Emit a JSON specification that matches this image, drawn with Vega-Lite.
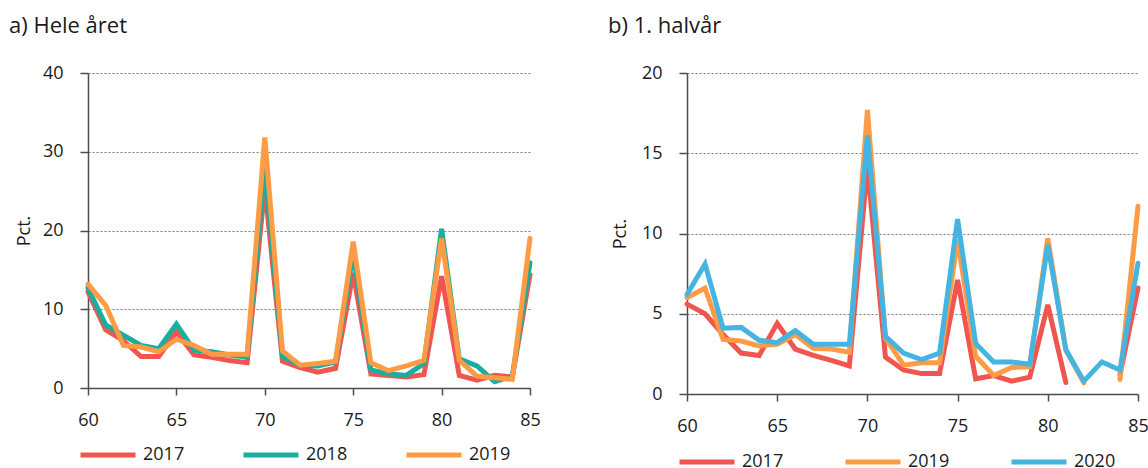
{
  "$schema": "https://vega.github.io/schema/vega-lite/v6.json",
  "padding": {"left": 9, "top": 15, "right": 0, "bottom": 0},
  "spacing": 157,
  "bounds": "flush",
  "resolve": {"scale": {"color": "independent", "x": "independent", "y": "independent"}, "legend": {"color": "independent"}},
  "datasets": {
    "a": [
      {"alder": 60, "2017": 12.2, "2018": 12.7, "2019": 13.2},
      {"alder": 61, "2017": 7.4, "2018": 8.0, "2019": 10.5},
      {"alder": 62, "2017": 6.0, "2018": 6.7, "2019": 5.4},
      {"alder": 63, "2017": 4.0, "2018": 5.4, "2019": 5.2},
      {"alder": 64, "2017": 4.0, "2018": 5.0, "2019": 4.6},
      {"alder": 65, "2017": 7.1, "2018": 8.1, "2019": 6.2},
      {"alder": 66, "2017": 4.2, "2018": 4.8, "2019": 5.4},
      {"alder": 67, "2017": 3.9, "2018": 4.6, "2019": 4.3},
      {"alder": 68, "2017": 3.5, "2018": 4.2, "2019": 4.3},
      {"alder": 69, "2017": 3.2, "2018": 3.9, "2019": 4.3},
      {"alder": 70, "2017": 25.5, "2018": 28.0, "2019": 31.8},
      {"alder": 71, "2017": 3.4, "2018": 4.0, "2019": 4.7},
      {"alder": 72, "2017": 2.6, "2018": 2.9, "2019": 2.9},
      {"alder": 73, "2017": 2.0, "2018": 2.8, "2019": 3.1},
      {"alder": 74, "2017": 2.5, "2018": 3.3, "2019": 3.4},
      {"alder": 75, "2017": 14.6, "2018": 17.1, "2019": 18.6},
      {"alder": 76, "2017": 1.8, "2018": 2.3, "2019": 3.2},
      {"alder": 77, "2017": 1.6, "2018": 1.8, "2019": 2.2},
      {"alder": 78, "2017": 1.4, "2018": 1.6, "2019": 2.8},
      {"alder": 79, "2017": 1.7, "2018": 3.1, "2019": 3.5},
      {"alder": 80, "2017": 14.2, "2018": 20.2, "2019": 19.0},
      {"alder": 81, "2017": 1.6, "2018": 3.7, "2019": 3.5},
      {"alder": 82, "2017": 1.0, "2018": 2.8, "2019": 1.5},
      {"alder": 83, "2017": 1.6, "2018": 0.8, "2019": 1.3},
      {"alder": 84, "2017": 1.4, "2018": 1.5, "2019": 1.1},
      {"alder": 85, "2017": 14.4, "2018": 15.9, "2019": 19.0}
    ],
    "b": [
      {"alder": 60, "2017": 5.6, "2019": 6.0, "2020": 6.2},
      {"alder": 61, "2017": 5.0, "2019": 6.6, "2020": 8.1},
      {"alder": 62, "2017": 3.7, "2019": 3.4, "2020": 4.1},
      {"alder": 63, "2017": 2.55, "2019": 3.3, "2020": 4.15},
      {"alder": 64, "2017": 2.4, "2019": 3.0, "2020": 3.35},
      {"alder": 65, "2017": 4.4, "2019": 3.1, "2020": 3.2},
      {"alder": 66, "2017": 2.8, "2019": 3.7, "2020": 3.95},
      {"alder": 67, "2017": 2.4, "2019": 2.85, "2020": 3.1},
      {"alder": 68, "2017": 2.1, "2019": 2.8, "2020": 3.1},
      {"alder": 69, "2017": 1.75, "2019": 2.6, "2020": 3.1},
      {"alder": 70, "2017": 14.2, "2019": 17.7, "2020": 16.1},
      {"alder": 71, "2017": 2.3, "2019": 3.5, "2020": 3.6},
      {"alder": 72, "2017": 1.5, "2019": 1.8, "2020": 2.55},
      {"alder": 73, "2017": 1.27, "2019": 1.95, "2020": 2.15},
      {"alder": 74, "2017": 1.27, "2019": 1.95, "2020": 2.55},
      {"alder": 75, "2017": 7.1, "2019": 9.6, "2020": 10.9},
      {"alder": 76, "2017": 0.95, "2019": 2.35, "2020": 3.15},
      {"alder": 77, "2017": 1.15, "2019": 1.15, "2020": 2.0},
      {"alder": 78, "2017": 0.8, "2019": 1.65, "2020": 2.0},
      {"alder": 79, "2017": 1.05, "2019": 1.7, "2020": 1.85},
      {"alder": 80, "2017": 5.55, "2019": 9.7, "2020": 9.3},
      {"alder": 81, "2017": 0.72, "2019": 2.75, "2020": 2.75},
      {"alder": 82, "2017": null, "2019": 0.7, "2020": 0.8},
      {"alder": 83, "2017": null, "2019": null, "2020": 2.0},
      {"alder": 84, "2017": 1.2, "2019": 0.9, "2020": 1.5},
      {"alder": 85, "2017": 6.6, "2019": 11.7, "2020": 8.15}
    ]
  },
  "hconcat": [
    {
      "width": 442,
      "height": 315,
      "title": {"text": "a) Hele året", "anchor": "start", "frame": "group", "dx": -79, "offset": 26},
      "data": {"name": "a"},
      "transform": [{"fold": ["2017", "2018", "2019"], "as": ["aar", "pct"]}],
      "mark": {"type": "line", "strokeWidth": 5, "strokeCap": "round", "invalid": "break-paths-show-domains"},
      "encoding": {
        "x": {"field": "alder", "type": "quantitative", "scale": {"domain": [60, 85], "nice": false, "zero": false},
              "axis": {"values": [60, 65, 70, 75, 80, 85], "grid": false, "title": null, "labelFlush": false, "tickSize": 7, "labelPadding": 16}},
        "y": {"field": "pct", "type": "quantitative", "scale": {"domain": [0, 40], "nice": false},
              "axis": {"values": [0, 10, 20, 30, 40], "title": "Pct.", "titlePadding": 9, "labelPadding": 17, "tickSize": 8}},
        "color": {"field": "aar", "type": "nominal",
                  "scale": {"domain": ["2017", "2018", "2019"], "range": ["#f0554f", "#1aae9f", "#ff9b45"]},
                  "legend": {"legendX": -10, "legendY": 352, "columnPadding": 48}}
      }
    },
    {
      "width": 451,
      "height": 321,
      "title": {"text": "b) 1. halvår", "anchor": "start", "frame": "group", "dx": -79, "offset": 26},
      "data": {"name": "b"},
      "transform": [{"fold": ["2017", "2019", "2020"], "as": ["aar", "pct"]}],
      "mark": {"type": "line", "strokeWidth": 5, "strokeCap": "round", "invalid": "break-paths-show-domains"},
      "encoding": {
        "x": {"field": "alder", "type": "quantitative", "scale": {"domain": [60, 85], "nice": false, "zero": false},
              "axis": {"values": [60, 65, 70, 75, 80, 85], "grid": false, "title": null, "labelFlush": false, "tickSize": 7, "labelPadding": 16}},
        "y": {"field": "pct", "type": "quantitative", "scale": {"domain": [0, 20], "nice": false},
              "axis": {"values": [0, 5, 10, 15, 20], "title": "Pct.", "titlePadding": 12, "labelPadding": 17, "tickSize": 8}},
        "color": {"field": "aar", "type": "nominal",
                  "scale": {"domain": ["2017", "2019", "2020"], "range": ["#f0554f", "#ff9b45", "#45b4e0"]},
                  "legend": {"legendX": -10, "legendY": 359, "columnPadding": 51}}
      }
    }
  ],
  "config": {
    "font": "Open Sans",
    "view": {"stroke": null},
    "title": {"fontSize": 22, "fontWeight": "normal", "color": "#1a1a1a", "baseline": "alphabetic"},
    "axis": {
      "labelFontSize": 18, "labelColor": "#1a1a1a", "titleFontSize": 18, "titleFontWeight": "normal", "titleColor": "#1a1a1a",
      "domainColor": "#4d4d4d", "domainWidth": 1.5, "tickColor": "#4d4d4d", "tickWidth": 1.5,
      "gridColor": "#555555", "gridDash": [2, 2], "gridWidth": 0.8
    },
    "legend": {
      "orient": "none", "direction": "horizontal", "title": null, "padding": 0,
      "symbolType": "stroke", "symbolSize": 3025, "symbolStrokeWidth": 5,
      "labelFontSize": 18, "labelColor": "#1a1a1a", "labelOffset": 5
    }
  }
}
